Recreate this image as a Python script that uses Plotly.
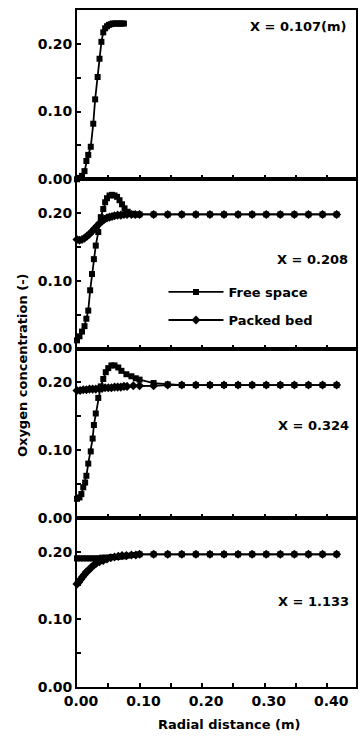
import plotly.graph_objects as go
from plotly.subplots import make_subplots

# ---------------- data ----------------
flat_x = [0.100, 0.1225, 0.145, 0.1675, 0.190, 0.2125, 0.235, 0.2575, 0.280,
          0.3025, 0.325, 0.3475, 0.370, 0.3925, 0.415]

# X = 0.107 m : free space only
x1_free = [0.000, 0.004, 0.008, 0.012, 0.015, 0.018, 0.022, 0.026, 0.029, 0.033,
           0.036, 0.039, 0.042, 0.045, 0.048, 0.051, 0.054, 0.057, 0.060, 0.063,
           0.066, 0.069, 0.072, 0.075]
y1_free = [0.000, 0.002, 0.005, 0.012, 0.027, 0.036, 0.048, 0.082, 0.118, 0.151,
           0.178, 0.203, 0.217, 0.223, 0.226, 0.228, 0.229, 0.230, 0.230, 0.230,
           0.230, 0.230, 0.230, 0.230]

# X = 0.208 m
x2_free = [0.000, 0.004, 0.008, 0.012, 0.015, 0.018, 0.021, 0.024, 0.027, 0.030,
           0.034, 0.038, 0.042, 0.045, 0.048, 0.052, 0.056, 0.060, 0.064, 0.068,
           0.072, 0.076, 0.081, 0.087, 0.093] + flat_x
y2_free = [0.012, 0.018, 0.025, 0.033, 0.044, 0.056, 0.086, 0.110, 0.132, 0.152,
           0.172, 0.194, 0.206, 0.216, 0.222, 0.226, 0.227, 0.226, 0.224, 0.219,
           0.213, 0.207, 0.202, 0.199, 0.198,
           0.198, 0.198, 0.198, 0.198, 0.198, 0.198, 0.198, 0.198, 0.198, 0.198,
           0.198, 0.198, 0.198, 0.198, 0.198]
x2_bed = [0.000, 0.004, 0.008, 0.012, 0.016, 0.020, 0.024, 0.028, 0.032, 0.036,
          0.040, 0.044, 0.048, 0.052, 0.056, 0.060, 0.065, 0.070, 0.075, 0.080,
          0.087, 0.093] + flat_x
y2_bed = [0.161, 0.160, 0.161, 0.163, 0.166, 0.169, 0.173, 0.177, 0.181, 0.185,
          0.188, 0.191, 0.193, 0.194, 0.195, 0.196, 0.197, 0.197, 0.198, 0.198,
          0.198, 0.198,
          0.198, 0.198, 0.198, 0.198, 0.198, 0.198, 0.198, 0.198, 0.198, 0.198,
          0.198, 0.198, 0.198, 0.198, 0.198]

# X = 0.324 m
x3_free = [0.000, 0.004, 0.007, 0.010, 0.013, 0.015, 0.018, 0.022, 0.025, 0.027,
           0.030, 0.034, 0.038, 0.042, 0.046, 0.050, 0.055, 0.060, 0.066, 0.071,
           0.079, 0.087, 0.094] + flat_x
y3_free = [0.028, 0.030, 0.035, 0.045, 0.052, 0.062, 0.080, 0.098, 0.117, 0.137,
           0.154, 0.177, 0.194, 0.205, 0.215, 0.221, 0.225, 0.225, 0.222, 0.217,
           0.212, 0.209, 0.206,
           0.204, 0.199, 0.197, 0.196, 0.196, 0.196, 0.196, 0.196, 0.196, 0.196,
           0.196, 0.196, 0.196, 0.196, 0.196]
x3_bed = [0.000, 0.005, 0.010, 0.015, 0.020, 0.025, 0.030, 0.035, 0.040, 0.045,
          0.050, 0.055, 0.060, 0.065, 0.070, 0.075, 0.080, 0.090] + flat_x
y3_bed = [0.188, 0.188, 0.189, 0.189, 0.190, 0.190, 0.190, 0.191, 0.191, 0.192,
          0.192, 0.192, 0.193, 0.193, 0.193, 0.194, 0.194, 0.195,
          0.195, 0.195, 0.196, 0.196, 0.196, 0.196, 0.196, 0.196, 0.196, 0.196,
          0.196, 0.196, 0.196, 0.196, 0.196]

# X = 1.133 m
x4_free = [0.000, 0.005, 0.010, 0.015, 0.020, 0.025, 0.030, 0.035, 0.040, 0.045,
           0.050, 0.055, 0.060, 0.065, 0.070, 0.075, 0.080, 0.090] + flat_x
y4_free = [0.190, 0.190, 0.190, 0.190, 0.190, 0.190, 0.190, 0.190, 0.191, 0.191,
           0.191, 0.192, 0.192, 0.192, 0.193, 0.193, 0.194, 0.195,
           0.196, 0.196, 0.196, 0.196, 0.196, 0.196, 0.196, 0.196, 0.196, 0.196,
           0.196, 0.196, 0.196, 0.196, 0.196]
x4_bed = [0.000, 0.003, 0.006, 0.009, 0.012, 0.015, 0.019, 0.023, 0.027, 0.031,
          0.036, 0.042, 0.048, 0.054, 0.060, 0.066, 0.072, 0.079, 0.087, 0.094] + flat_x
y4_bed = [0.152, 0.155, 0.159, 0.163, 0.166, 0.170, 0.173, 0.177, 0.180, 0.183,
          0.185, 0.187, 0.189, 0.191, 0.192, 0.193, 0.194, 0.194, 0.195, 0.195,
          0.196, 0.196, 0.196, 0.196, 0.196, 0.196, 0.196, 0.196, 0.196, 0.196,
          0.196, 0.196, 0.196, 0.196, 0.196]

panel_labels = ["X = 0.107(m)", "X = 0.208", "X = 0.324", "X = 1.133"]
series_names = ["Free space", "Packed bed"]

x_tickvals = [0.00, 0.05, 0.10, 0.15, 0.20, 0.25, 0.30, 0.35, 0.40]
x_ticktext = ["0.00", "", "0.10", "", "0.20", "", "0.30", "", "0.40"]
y_tickvals = [0.00, 0.05, 0.10, 0.15, 0.20]
y_ticktext = ["0.00", "", "0.10", "", "0.20"]

x_title = "Radial distance (m)"
y_title = "Oxygen concentration (-)"

# ---------------- figure ----------------
FONT = "DejaVu Sans, Liberation Sans, Arial, sans-serif"
fig = make_subplots(rows=4, cols=1, shared_xaxes=True, vertical_spacing=0)

free_style = dict(mode="lines+markers", line=dict(color="black", width=1.8),
                  marker=dict(symbol="square", size=6, color="black"), cliponaxis=False)
bed_style = dict(mode="lines+markers", line=dict(color="black", width=1.8),
                 marker=dict(symbol="diamond", size=7, color="black"), cliponaxis=False)

panels = [
    (x1_free, y1_free, None, None),
    (x2_free, y2_free, x2_bed, y2_bed),
    (x3_free, y3_free, x3_bed, y3_bed),
    (x4_free, y4_free, x4_bed, y4_bed),
]
for i, (xf, yf, xb, yb) in enumerate(panels, start=1):
    if xb is not None:
        fig.add_trace(go.Scatter(x=xb, y=yb, name=series_names[1],
                                 showlegend=(i == 2), legend="legend2", **bed_style),
                      row=i, col=1)
    fig.add_trace(go.Scatter(x=xf, y=yf, name=series_names[0],
                             showlegend=(i == 2), legend="legend", **free_style),
                  row=i, col=1)

tickfont = dict(family=FONT, size=14, color="black", weight="bold")
for i in range(1, 5):
    fig.update_xaxes(range=[0, 0.446], tickvals=x_tickvals, ticktext=x_ticktext,
                     showticklabels=(i == 4), ticks="inside", ticklen=4, tickwidth=1.5,
                     tickcolor="black", showline=True, linecolor="black", linewidth=2,
                     mirror=True, showgrid=False, zeroline=False, tickfont=tickfont,
                     ticklabelshift=4, row=i, col=1)
    fig.update_yaxes(range=[0, 0.25], tickvals=y_tickvals, ticktext=y_ticktext,
                     ticks="inside", ticklen=4, tickwidth=1.5, tickcolor="black",
                     showline=True, linecolor="black", linewidth=2, mirror=True,
                     showgrid=False, zeroline=False, tickfont=tickfont, row=i, col=1)

ann_font = dict(family=FONT, size=13, color="black", weight="bold")
label_pos = [(0.975, 0.975), (0.979, 0.632), (0.982, 0.387), (0.982, 0.127)]
annotations = []
for txt, (ax, ay) in zip(panel_labels, label_pos):
    annotations.append(dict(text=txt, x=ax, y=ay, xref="paper", yref="paper",
                            xanchor="right", yanchor="middle", showarrow=False,
                            font=ann_font))
annotations.append(dict(text=x_title, x=(231 - 77) / 281, y=-0.055, xref="paper",
                        yref="paper", xanchor="center", yanchor="middle",
                        showarrow=False, font=ann_font))
annotations.append(dict(text=y_title, x=-0.197, y=(687 - 365) / 677, xref="paper",
                        yref="paper", xanchor="center", yanchor="middle",
                        showarrow=False, textangle=-90,
                        font=dict(family=FONT, size=13, color="black", weight="bold")))

leg_common = dict(xanchor="left", yanchor="middle", bgcolor="rgba(0,0,0,0)",
                  borderwidth=0, itemwidth=55,
                  font=dict(family=FONT, size=13, color="black", weight="bold"))
fig.update_layout(
    width=361, height=740,
    margin=dict(l=77, r=3, t=10, b=53),
    plot_bgcolor="white", paper_bgcolor="white",
    font=dict(family=FONT, color="black"),
    annotations=annotations,
    legend=dict(x=0.31, y=0.5835, **leg_common),
    legend2=dict(x=0.31, y=0.542, **leg_common),
)

fig.write_html("out.html", config={"displayModeBar": False},
               post_script="document.body.style.margin='0px';document.body.style.overflow='hidden';")
